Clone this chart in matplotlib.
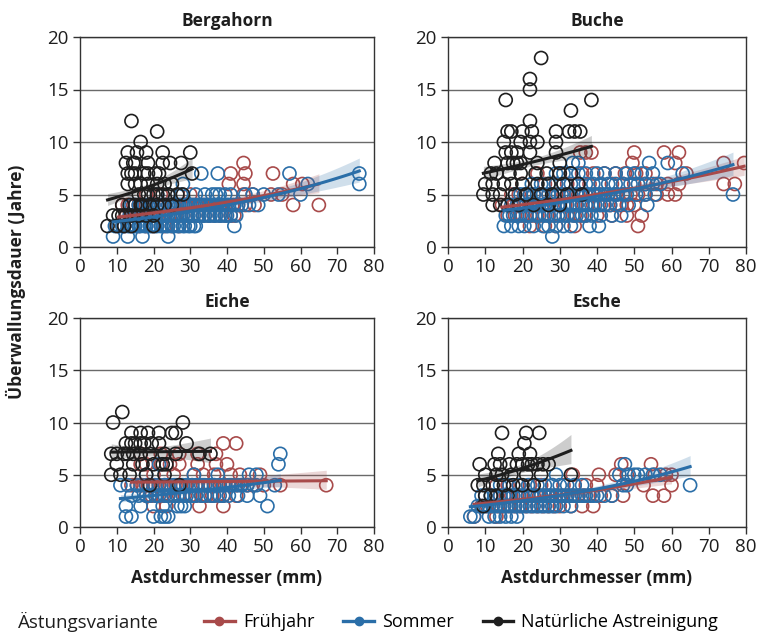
import matplotlib
matplotlib.use('Agg')
import matplotlib.pyplot as plt
import numpy as np
from matplotlib.lines import Line2D

plt.rcParams['font.family'] = ['Open Sans', 'DejaVu Sans']

# farben je Ästungsvariante
RED = '#a84a4a'
BLUE = '#2a6ea8'
BLACK = '#1e1e1e'

species = ['Bergahorn', 'Buche', 'Eiche', 'Esche']
varianten = ['Frühjahr', 'Sommer', 'Natürliche Astreinigung']

# Daten je Zeile: Überwallungsdauer (Jahre) -> Astdurchmesser (mm)
berg_fru = {8: [44.5], 7: [41, 45, 52.5], 6: [40.5, 44.5, 58, 60.5],
            5: [18, 22, 30, 44.5, 47, 52, 55],
            4: [11.5, 13, 14.5, 16, 17.5, 19, 20, 21.5, 23, 24.5, 26, 27.5, 29, 30.5, 32, 33.5, 35,
                36.5, 38, 39.5, 41.5, 43, 45, 47.5, 58, 65],
            3: [12.5, 14, 15.5, 17, 18.5, 20, 21.5, 23, 24.5, 26, 27.5, 29, 30.5, 32, 33.5, 35,
                36.5, 38, 39.5, 41, 42],
            2: [10.5, 12, 14, 16, 18, 20, 23, 25, 27]}
berg_som = {7: [33, 37.5, 57, 76], 6: [28, 62, 76],
            5: [21, 24, 27.5, 31.5, 34, 36, 37, 38, 39.5, 41, 45, 47, 50, 54, 60],
            4: [14, 15, 16, 17.5, 18.5, 19.5, 20, 21, 21.5, 22.5, 23, 24, 24.5, 25.5, 26.5, 27,
                28, 28.5, 29.5, 30, 31, 31.5, 32.5, 33, 34, 34.5, 35.5, 36, 37, 37.5, 38.5, 39,
                40, 40.5, 42, 43, 44, 46, 48.5],
            3: [13.5, 14.5, 15, 16, 16.5, 17.5, 18, 19, 20, 20.5, 21.5, 22.5, 23, 24, 25, 25.5,
                26.5, 27, 28, 29, 29.5, 30.5, 31, 32, 32.5, 33.5, 34, 35, 35.5, 36.5, 37, 38,
                38.5, 39.5, 40, 41, 42.5],
            2: [9.5, 10.5, 11.5, 12, 13, 13.5, 14.5, 15, 16, 16.5, 17.5, 18, 19, 19.5, 20.5, 21,
                22, 22.5, 23.5, 24, 25, 25.5, 26.5, 27, 28, 28.5, 29.5, 30, 31, 31.5, 42],
            1: [9, 13, 17, 24]}
berg_nat = {12: [14], 11: [21], 10: [16.5], 9: [13, 15.5, 18, 22.5, 30],
            8: [12.5, 14.5, 15, 18.5, 22.5, 24.5, 27.5],
            7: [13, 14, 15, 17.5, 18.5, 20.5, 21.5, 30.5],
            6: [13, 15, 16.5, 18.5, 21, 23, 25],
            5: [16, 17.5, 18.5, 20, 21, 22.5, 24, 26.5, 28],
            4: [11.5, 13.5, 15, 16.5, 17, 19, 21, 23, 25],
            3: [9, 10.5, 11.5, 12.5, 14, 16, 18, 20],
            2: [7.5, 10, 12, 14, 20]}

buch_fru = {9: [35.5, 37, 38.5, 50, 58, 62], 8: [49.5, 61, 74, 79.5],
            7: [24, 30, 33, 36, 39, 42, 45, 47.5, 50.5, 53, 64],
            6: [20, 26, 29, 32, 35, 38, 41, 44, 47, 50, 53, 56, 59, 62, 74, 77],
            5: [17, 19, 21, 23, 25, 27, 29, 31, 33, 35, 37, 39, 41, 43, 45, 47, 49, 51, 53, 56,
                59, 61],
            4: [14.5, 16, 17.5, 19, 21, 22.5, 24, 25.5, 27, 28.5, 30, 31.5, 33, 34.5, 36, 37.5,
                39, 40.5, 42, 43.5, 45, 46.5, 48, 50],
            3: [16, 18, 20, 21, 22.5, 24, 25.5, 27, 28.5, 30, 32, 34, 35.5, 37, 40, 44, 48, 52],
            2: [22, 26, 29, 34, 51]}
buch_som = {8: [33.5, 35, 54, 59],
            7: [29, 31, 33, 35, 37, 40, 42, 45, 48, 50, 52, 55, 63],
            6: [22.5, 25, 27, 29, 31, 33, 35, 37, 39, 41, 43, 45, 47, 49, 51, 53, 55, 57],
            5: [18, 19.5, 20.5, 22, 23, 24.5, 25.5, 27, 28, 29.5, 30.5, 32, 33, 34.5, 35.5, 37,
                38, 39.5, 40.5, 42, 43, 44.5, 45.5, 47, 48, 50.5, 53, 55.5, 76.5],
            4: [16, 17, 18.5, 19.5, 21, 22, 23.5, 24.5, 26, 27, 28.5, 29.5, 31, 32, 33.5, 34.5,
                36, 37, 38.5, 39.5, 41, 42, 43.5, 46, 48.5, 53.5],
            3: [15.5, 16.5, 17.5, 18.5, 19.5, 21, 22, 23.5, 24.5, 26, 27, 28.5, 29.5, 31, 32,
                33.5, 34.5, 36, 37, 38.5, 41, 44, 46.5],
            2: [15, 17, 19, 20.5, 23, 25.5, 27, 29, 31, 33, 38, 40.5],
            1: [28]}
buch_nat = {18: [25], 16: [22], 15: [22], 14: [15.5, 38.5], 13: [33], 12: [22],
            11: [16, 17, 20, 22.5, 29, 32.5, 34, 35.5],
            10: [15, 19.5, 22, 24, 29], 9: [15.5, 17, 18.5, 22, 29],
            8: [12.5, 16, 17.5, 18.5, 19.5, 24, 30],
            7: [11.5, 13, 16.5, 19.5, 23.5, 26.5, 30, 33],
            6: [10, 12, 15, 17, 20, 24, 27, 31, 35],
            5: [9.5, 12, 14, 18, 21, 25, 28, 32, 36],
            4: [12, 14, 16, 19, 23, 27, 30]}

eich_fru = {8: [39, 42.5], 7: [16.5, 22, 27, 32, 37],
            6: [16.5, 18, 22, 24.5, 27, 32, 37, 40],
            5: [20, 25.5, 31, 33.5, 36.5, 41, 43.5, 49],
            4: [14, 15.5, 17, 18.5, 20, 21.5, 23, 24.5, 26, 27.5, 29, 30.5, 32, 33.5, 35, 36.5,
                38, 39.5, 41, 42.5, 44, 45.5, 47, 50, 54.5, 67],
            3: [18, 19.5, 21, 22.5, 24, 25.5, 27, 28.5, 30, 31.5, 33, 34.5, 36, 37.5, 39, 42.5],
            2: [20, 23.5, 32.5, 39]}
eich_som = {7: [54.5], 6: [21.5, 54], 5: [18, 31, 37.5, 46, 48],
            4: [11, 13, 15.5, 16.5, 18, 19, 20.5, 21.5, 23, 24, 25.5, 26.5, 28, 29, 30.5, 31.5,
                33, 34, 35.5, 36.5, 38, 39, 40.5, 41.5, 43, 44, 45.5, 48, 53],
            3: [14, 16, 18, 19, 20.5, 21.5, 23, 24, 25.5, 26.5, 28, 29, 30.5, 31.5, 33, 34, 35.5,
                36.5, 38, 39, 40.5, 43, 45.5, 49],
            2: [12.5, 16.5, 22.5, 26.5, 27.5, 28.5, 51],
            1: [12.5, 14, 20, 22, 23, 24]}
eich_nat = {11: [11.5], 10: [9, 28], 9: [14, 16.5, 18.5, 21.5, 25, 26],
            8: [12.5, 14, 15, 16.5, 17.5, 19.5, 21.5, 29],
            7: [8.5, 10, 12, 13, 14.5, 16.5, 19, 23, 26, 32.5, 35.5],
            6: [10, 14.5, 17, 20, 22.5, 23.5], 5: [8.5, 11, 13.5, 18, 23], 4: [19, 27]}

esch_fru = {6: [46.5, 54.5], 5: [33.5, 40.5, 45, 48, 55.5, 58.5, 60],
            4: [13, 16, 19, 22, 25, 28, 31, 34, 37, 40, 52.5, 60],
            3: [14, 15.5, 17, 18.5, 20, 21.5, 23, 24.5, 26, 27.5, 29, 30.5, 32, 33.5, 35, 36.5,
                38, 41, 44, 47, 55, 58],
            2: [9, 10.5, 12, 13.5, 15, 16.5, 18, 19.5, 21, 22.5, 24, 25.5, 27, 28.5, 30, 33, 36,
                39],
            1: [7, 13]}
esch_som = {6: [47.5], 5: [29, 46, 48.5, 50, 51, 53, 55, 57],
            4: [14, 16.5, 19, 21.5, 24, 26, 28, 30, 32, 34, 36, 47, 48, 65],
            3: [9, 10, 11.5, 12.5, 14, 15, 16.5, 17.5, 19, 20, 21.5, 22.5, 24, 25, 26, 27, 28,
                29, 30, 31, 32, 33, 34, 35, 36, 37, 38, 39, 40, 42, 44],
            2: [8, 9, 10, 11, 12, 13, 14, 15, 16, 17, 18, 19, 20, 21, 22, 23, 24, 25, 26, 27, 28,
                29, 31, 33],
            1: [6, 7, 11, 12.5, 14, 15.5, 17, 18.5]}
esch_nat = {9: [14.5, 21, 24.5], 8: [20.5], 7: [13.5, 19, 22],
            6: [8.5, 12.5, 14, 16.5, 18.5, 20, 21.5, 22.5, 24, 25.5, 27],
            5: [10, 13, 14.5, 17, 21, 25, 33], 4: [8, 9.5, 12, 15, 17.5, 20, 23],
            3: [10, 11.5, 13, 16], 2: [9.5]}

panel_data = {
    'Bergahorn': [berg_fru, berg_som, berg_nat],
    'Buche': [buch_fru, buch_som, buch_nat],
    'Eiche': [eich_fru, eich_som, eich_nat],
    'Esche': [esch_fru, esch_som, esch_nat],
}
colors = [RED, BLUE, BLACK]


def to_xy(rows):
    x, y = [], []
    for jahre, durchm in rows.items():
        x += durchm
        y += [jahre] * len(durchm)
    return np.array(x, float), np.array(y, float)


def poisson_fit(x, y, n_iter=50):
    # Poisson-GLM mit log-link, IRLS
    X = np.column_stack([np.ones_like(x), x])
    b = np.array([np.log(y.mean()), 0.0])
    for _ in range(n_iter):
        eta = X @ b
        mu = np.exp(eta)
        z = eta + (y - mu) / mu
        XtW = X.T * mu
        b = np.linalg.solve(XtW @ X, XtW @ z)
    mu = np.exp(X @ b)
    cov = np.linalg.inv((X.T * mu) @ X)
    return b, cov


# positionen der Panels in Pixel (links, oben, rechts, unten)
W, H = 758, 635
boxes = {'Bergahorn': (80, 37, 374, 247), 'Buche': (448, 37, 746, 247),
         'Eiche': (80, 318, 374, 527), 'Esche': (448, 318, 746, 527)}

fig = plt.figure(figsize=(W / 100, H / 100), dpi=100)

for name in species:
    l, t, r, b_ = boxes[name]
    ax = fig.add_axes([l / W, 1 - b_ / H, (r - l) / W, (b_ - t) / H])
    for rows, col in zip(panel_data[name], colors):
        x, y = to_xy(rows)
        ax.scatter(x, y, s=88, facecolors='none', edgecolors=col, linewidths=1.2, zorder=2)
    for rows, col in zip(panel_data[name], colors):
        x, y = to_xy(rows)
        beta, cov = poisson_fit(x, y)
        xs = np.linspace(x.min(), x.max(), 100)
        Xg = np.column_stack([np.ones_like(xs), xs])
        eta = Xg @ beta
        se = np.sqrt(np.einsum('ij,jk,ik->i', Xg, cov, Xg))
        ax.fill_between(xs, np.exp(eta - se), np.exp(eta + se),
                        color=col, alpha=0.22, lw=0, zorder=3)
        ax.plot(xs, np.exp(eta), color=col, lw=2.2, zorder=4)

    ax.set_xlim(0, 80)
    ax.set_ylim(0, 20)
    ax.set_xticks(np.arange(0, 81, 10))
    ax.set_yticks(np.arange(0, 21, 5))
    ax.yaxis.grid(True, color='#6a6a6a', lw=1)
    ax.set_axisbelow(True)
    for sp in ax.spines.values():
        sp.set_color('#333333')
        sp.set_linewidth(1)
    ax.tick_params(direction='out', length=5, width=1, color='#333333',
                   labelsize=13.5, labelcolor='#1e1e1e', pad=3)
    ax.set_title(name, fontsize=12.5, fontweight='bold', color='#1e1e1e', pad=8)
    if name in ('Eiche', 'Esche'):
        ax.set_xlabel('Astdurchmesser (mm)', fontsize=12.5, fontweight='bold',
                      color='#1e1e1e', labelpad=9)

fig.text(16 / W, 1 - 282 / H, 'Überwallungsdauer (Jahre)', rotation=90, ha='center',
         va='center', fontsize=12.5, fontweight='bold', color='#1e1e1e')

# Legende unten
fig.text(18 / W, 1 - 622 / H, 'Ästungsvariante', ha='left', va='center',
         fontsize=13.5, color='#1e1e1e')
handles = [Line2D([], [], color=c, lw=2.4, marker='o', markersize=6) for c in colors]
fig.legend(handles, varianten, loc='center left', bbox_to_anchor=(204 / W, 1 - 622 / H),
           ncol=3, frameon=False, fontsize=13, handlelength=1.7, handletextpad=0.45,
           columnspacing=1.6, borderaxespad=0, borderpad=0)

fig.savefig('out.png', dpi=100)
